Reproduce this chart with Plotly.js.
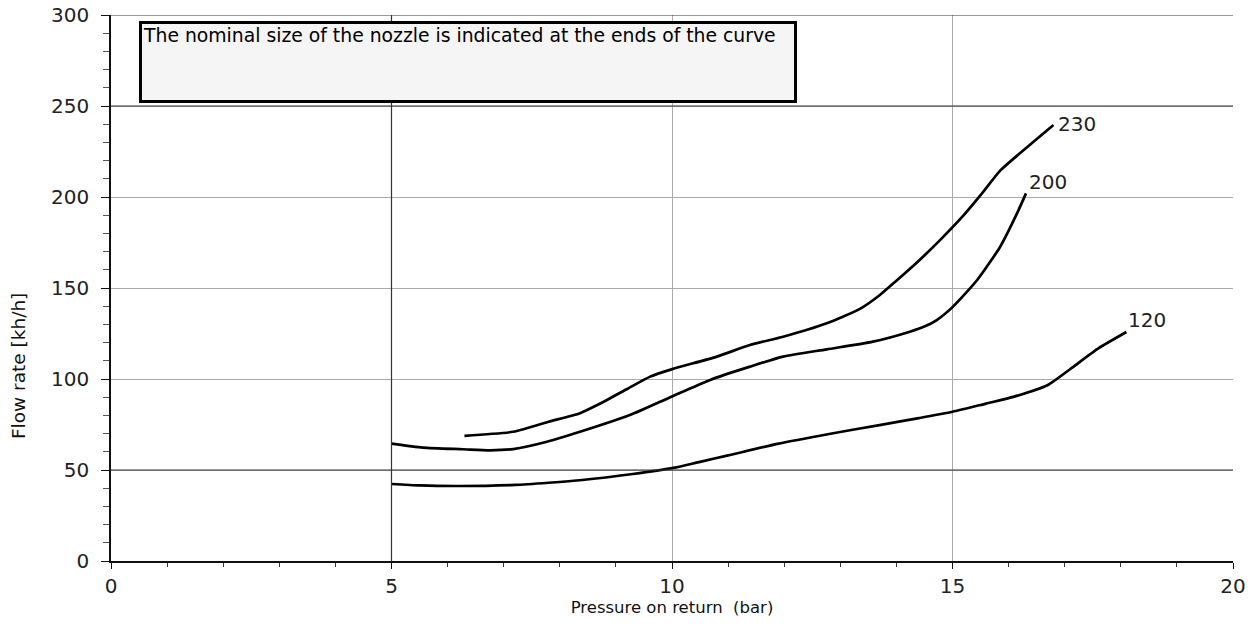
<!DOCTYPE html>
<html>
<head>
<meta charset="utf-8">
<script src="https://cdn.plot.ly/plotly-3.0.1.min.js"></script>
<style>
  html, body { margin: 0; padding: 0; background: #fff; }
  #chart { width: 1256px; height: 627px; }
</style>
</head>
<body>
<div id="chart"></div>
<script>
// ---- data ----
const nozzle120X = [5.0, 5.5, 6.2, 7.2, 7.8, 8.4, 9.3, 10.0, 10.5, 11.0, 11.9, 12.8, 13.7, 14.4, 15.0, 15.6, 16.1, 16.7, 17.1, 17.6, 18.1];
const nozzle120Y = [42.3, 41.5, 41.2, 41.8, 43.0, 44.5, 47.8, 51.0, 54.5, 58.0, 64.5, 69.8, 74.7, 78.5, 82.0, 86.5, 90.3, 96.7, 105.5, 116.8, 125.8];

const nozzle200X = [5.0, 5.56, 6.27, 6.76, 7.17, 7.77, 8.36, 9.25, 9.99, 10.68, 11.39, 11.98, 12.76, 13.58, 14.24, 14.5, 14.72, 15.0, 15.44, 15.85, 16.15, 16.31];
const nozzle200Y = [64.5, 62.3, 61.4, 60.8, 61.5, 65.5, 71.0, 80.2, 90.3, 99.5, 106.8, 112.3, 116.3, 120.5, 126.0, 128.8, 132.4, 139.5, 154.4, 172.7, 191.0, 202.0];

const nozzle230X = [6.3, 7.17, 7.8, 8.36, 8.72, 9.2, 9.61, 9.99, 10.8, 11.39, 11.98, 12.76, 13.35, 13.7, 14.0, 14.4, 14.8, 15.2, 15.5, 15.85, 16.2, 16.8];
const nozzle230Y = [68.8, 71.0, 76.5, 81.2, 86.5, 94.5, 101.3, 105.3, 112.3, 118.7, 123.2, 130.6, 138.5, 146.0, 154.0, 165.0, 177.0, 190.0, 201.0, 214.5, 224.0, 239.6];

const curveLabels = ['120', '200', '230'];
const xTickVals = [0, 5, 10, 15, 20];
const yTickVals = [0, 50, 100, 150, 200, 250, 300];
const darkXGrid = [5];
const darkYGrid = [50, 250, 300];

const noteText = 'The nominal size of the nozzle is indicated at the ends of the curve';
const xTitle = 'Pressure on return  (bar)';
const yTitle = 'Flow rate [kh/h]';

// ---- build ----
const FONT = 'DejaVu Sans, Liberation Sans, Arial, sans-serif';
const series = [
  {x: nozzle120X, y: nozzle120Y, name: curveLabels[0]},
  {x: nozzle200X, y: nozzle200Y, name: curveLabels[1]},
  {x: nozzle230X, y: nozzle230Y, name: curveLabels[2]}
];
// pixel offsets of the end labels (style, not data)
const labelShift = [{dx: 0, dy: 12}, {dx: 1, dy: 11}, {dx: 3, dy: 1}];

const traces = series.map(s => ({
  type: 'scatter', mode: 'lines', x: s.x, y: s.y, name: s.name,
  line: {color: '#000', width: 2.7, shape: 'spline', smoothing: 0.6},
  hoverinfo: 'x+y+name', showlegend: false
}));

const labelAnnotations = series.map((s, i) => ({
  x: s.x[s.x.length - 1], y: s.y[s.y.length - 1],
  xref: 'x', yref: 'y', text: s.name, showarrow: false,
  xanchor: 'left', yanchor: 'middle',
  xshift: labelShift[i].dx, yshift: labelShift[i].dy,
  font: {family: FONT, size: 20, color: '#222'}
}));

const gridShapes = [
  ...darkXGrid.map(v => ({type: 'line', xref: 'x', yref: 'paper', x0: v, x1: v, y0: 0, y1: 1,
    line: {color: '#333', width: 1.2}, layer: 'above'})),
  ...darkYGrid.map(v => ({type: 'line', xref: 'paper', yref: 'y', x0: 0, x1: 1, y0: v, y1: v,
    line: {color: '#333', width: 1.2}, layer: 'above'}))
];

const layout = {
  width: 1256, height: 627,
  margin: {l: 111, r: 23, t: 15, b: 66},
  paper_bgcolor: '#fff', plot_bgcolor: '#fff',
  font: {family: FONT, color: '#222'},
  xaxis: {
    range: [0, 20], tickvals: xTickVals, ticktext: xTickVals.map(String),
    showgrid: true, gridcolor: '#aaa', gridwidth: 1.2,
    zeroline: false, showline: true, linecolor: '#111', linewidth: 1.5,
    ticks: 'outside', ticklen: 6, tickcolor: '#111', tickwidth: 1.2,
    minor: {dtick: 1, ticks: 'outside', ticklen: 4, tickcolor: '#333', showgrid: false},
    tickfont: {family: FONT, size: 20, color: '#222'},
    title: {text: xTitle, font: {family: FONT, size: 16.5, color: '#111'}, standoff: 5}
  },
  yaxis: {
    range: [0, 300], tickvals: yTickVals, ticktext: yTickVals.map(String),
    showgrid: true, gridcolor: '#aaa', gridwidth: 1.2,
    zeroline: false, showline: true, linecolor: '#111', linewidth: 1.5,
    ticks: 'outside', ticklen: 8, tickcolor: '#111', tickwidth: 1.2,
    ticklabelstandoff: 8,
    minor: {dtick: 10, ticks: 'outside', ticklen: 6, tickcolor: '#555', showgrid: false},
    tickfont: {family: FONT, size: 20, color: '#222'}
  },
  shapes: gridShapes,
  annotations: [
    {
      xref: 'paper', yref: 'paper', x: 0.025, y: 0.989,
      xanchor: 'left', yanchor: 'top',
      text: noteText, showarrow: false, align: 'left', valign: 'top',
      width: 650, height: 74, borderpad: 1, borderwidth: 3,
      bordercolor: '#000', bgcolor: '#f5f5f5',
      font: {family: FONT, size: 18.8, color: '#000'}
    },
    {
      xref: 'paper', yref: 'paper', x: -0.0829, y: 0.357,
      xanchor: 'center', yanchor: 'middle', textangle: -90,
      text: yTitle, showarrow: false,
      font: {family: FONT, size: 18.5, color: '#111'}
    },
    ...labelAnnotations
  ]
};

Plotly.newPlot('chart', traces, layout, {displayModeBar: false, responsive: false});
</script>
</body>
</html>
